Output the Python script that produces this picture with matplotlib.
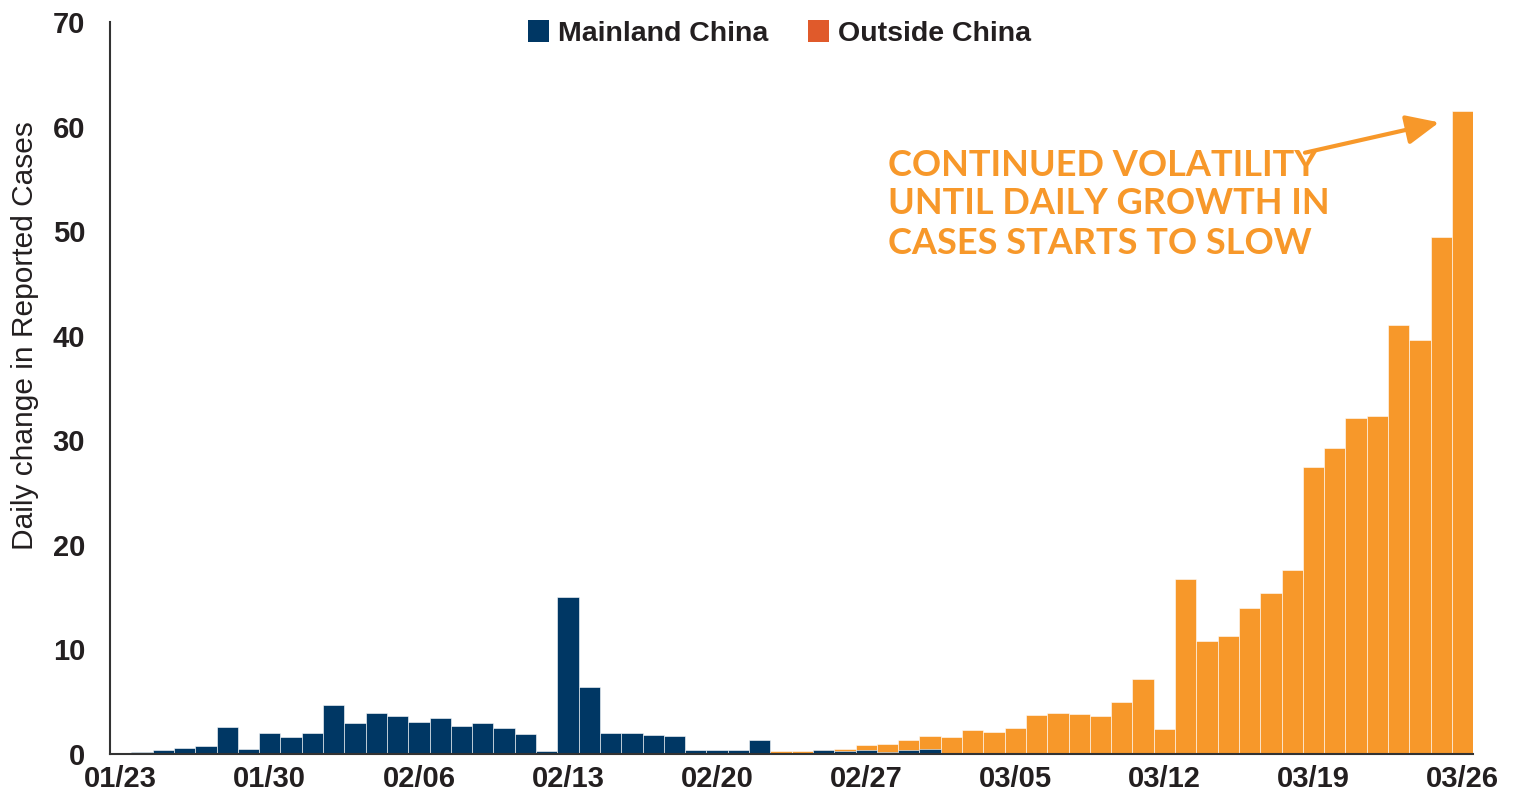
import pandas as pd
import matplotlib.pyplot as plt
from matplotlib.patches import Patch
from matplotlib import font_manager

# Daily change in reported cases (%), 01/23 - 03/26
mainland_china = [
    0.05, 0.16, 0.41, 0.60, 0.76, 2.55, 0.48, 1.97, 1.60, 2.00,
    4.65, 3.00, 3.90, 3.66, 3.10, 3.44, 2.65, 2.93, 2.45, 1.94,
    0.29, 15.0, 6.37, 1.97, 2.04, 1.85, 1.72, 0.35, 0.38, 0.41,
    1.37, 0.03, 0.13, 0.41, 0.29, 0.35, 0.22, 0.35, 0.48, 0.13,
    0.06, 0.10, 0.10, 0.0, 0.0, 0.0, 0.0, 0.0, 0.0, 0.0,
    0.0, 0.0, 0.0, 0.0, 0.0, 0.0, 0.0, 0.0, 0.0, 0.0,
    0.0, 0.0, 0.0, 0.0,
]
outside_china = [
    0.0, 0.0, 0.0, 0.0, 0.0, 0.0, 0.0, 0.0, 0.0, 0.0,
    0.0, 0.0, 0.0, 0.0, 0.0, 0.0, 0.0, 0.0, 0.0, 0.0,
    0.0, 0.0, 0.0, 0.0, 0.0, 0.0, 0.0, 0.0, 0.0, 0.0,
    0.0, 0.26, 0.32, 0.38, 0.48, 0.85, 0.95, 1.38, 1.70, 1.65,
    2.30, 2.10, 2.52, 3.69, 3.89, 3.82, 3.66, 4.94, 7.13, 2.42,
    16.7, 10.8, 11.24, 13.98, 15.4, 17.55, 27.45, 29.27, 32.1, 32.3,
    41.0, 39.6, 49.4, 61.5,
]
dates = pd.date_range('2020-01-23', '2020-03-26', freq='D')
tick_labels = ['01/23', '01/30', '02/06', '02/13', '02/20', '02/27',
               '03/05', '03/12', '03/19', '03/26']
y_ticks = [0, 10, 20, 30, 40, 50, 60, 70]

navy = '#003764'
orange = '#F7982A'
legend_orange = '#E05A2B'
dark = '#231f20'

# condensed font if present, otherwise regular Liberation Sans (smaller)
installed = {f.name for f in font_manager.fontManager.ttflist}
if 'Liberation Sans Narrow' in installed:
    narrow, leg_size, ylab_size = 'Liberation Sans Narrow', 24, 25.5
else:
    narrow, leg_size, ylab_size = 'Liberation Sans', 20.5, 21.5

fig = plt.figure(figsize=(15.18, 8), dpi=100)
ax = fig.add_axes([0.0725, 0.0575, 0.898, 0.915])

x = list(range(len(dates)))
ax.bar(x, outside_china, width=1.0, color=orange, edgecolor='white', linewidth=0.4, zorder=2)
ax.bar(x, mainland_china, width=1.0, color=navy, edgecolor='white', linewidth=0.4, zorder=3)

ax.set_xlim(-0.5, len(dates) - 0.5)
ax.set_ylim(0, 70)

tick_pos = [i for i, d in enumerate(dates) if d.strftime('%m/%d') in tick_labels]
ax.set_xticks(tick_pos)
ax.set_xticklabels(tick_labels, fontsize=21, fontweight='bold',
                   family='Liberation Sans', color=dark)
ax.set_yticks(y_ticks)
ax.set_yticklabels([str(v) for v in y_ticks], fontsize=21, fontweight='bold',
                   family='Liberation Sans', color=dark)
ax.tick_params(axis='both', length=0)
ax.tick_params(axis='x', pad=8)
ax.tick_params(axis='y', pad=18)

for side in ['top', 'right']:
    ax.spines[side].set_visible(False)
for side in ['left', 'bottom']:
    ax.spines[side].set_color('#333333')
    ax.spines[side].set_linewidth(1.5)
    ax.spines[side].set_zorder(4)

# y label sits a little above the axis middle in the original
fig.text(25 / 1518, 1 - 336 / 800, 'Daily change in Reported Cases', rotation=90,
         fontsize=ylab_size, family=narrow, color=dark, ha='center', va='center')

handles = [Patch(facecolor=navy), Patch(facecolor=legend_orange)]
leg = ax.legend(handles, ['Mainland China', 'Outside China'], loc='center',
                bbox_to_anchor=(0.491, 0.984), ncol=2, frameon=False,
                handlelength=0.75, handleheight=0.8, handletextpad=0.3,
                columnspacing=1.4,
                prop={'family': narrow, 'weight': 'bold', 'size': leg_size})
for t in leg.get_texts():
    t.set_color(dark)

# annotation
note_lines = ['CONTINUED VOLATILITY', 'UNTIL DAILY GROWTH IN', 'CASES STARTS TO SLOW']
for i, line in enumerate(note_lines):
    fig.text(888 / 1518, 1 - (165 + 39 * i) / 800, line, fontsize=26,
             fontweight='bold', family='Lato', color=orange, va='center', ha='left')

ax.annotate('', xy=(61.9, 60.4), xytext=(55.6, 57.5),
            arrowprops=dict(arrowstyle='-|>,head_length=1.0,head_width=0.45',
                            lw=3, color=orange, mutation_scale=20,
                            shrinkA=0, shrinkB=0))

fig.savefig('out.png', dpi=100)
